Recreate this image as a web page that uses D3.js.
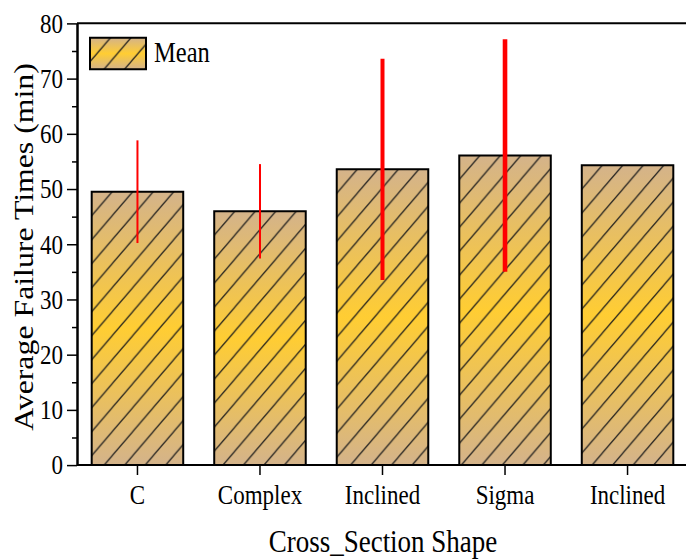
<!DOCTYPE html>
<html>
<head>
<meta charset="utf-8">
<script src="https://cdn.jsdelivr.net/npm/d3@7"></script>
<style>
  html, body { margin: 0; padding: 0; background: #fff; }
  svg { display: block; }
</style>
</head>
<body>
<script>
// Bar categories (the last shape label repeats, so bars are keyed by index)
const categories = ["C", "Complex", "Inclined", "Sigma", "Inclined"];
// Mean failure time per cross-section shape (min)
const means = [49.5, 45.95, 53.55, 56.05, 54.3];
// Error half-widths (min)
const errors = [9.3, 8.55, 20.05, 21.05, 0];
// Error bar line thickness per bar
const errWidths = [2, 2, 4, 4.6, 2];
// Y axis ticks
const yTicks = [0, 10, 20, 30, 40, 50, 60, 70, 80];
const yMinorTicks = [5, 15, 25, 35, 45, 55, 65, 75];
const legendLabel = "Mean";
const xTitle = "Cross_Section Shape";
const yTitle = "Average Failure Times (min)";

const W = 686, H = 560;
const SY = 1.2;            // vertical stretch of the drawing
const VH = H / SY;         // drawing height in user units
const FONT = "'Liberation Serif', 'Times New Roman', serif";

const svg = d3.select("body").append("svg")
  .attr("width", W).attr("height", H)
  .attr("viewBox", `0 0 ${W} ${VH}`)
  .attr("preserveAspectRatio", "none");

const x = d3.scaleBand()
  .domain(d3.range(categories.length))
  .range([76.2, 688.8])
  .paddingInner(0.253)
  .paddingOuter(0.1265);

const y = d3.scaleLinear().domain([0, 80]).range([465 / SY, 23.3 / SY]);

const defs = svg.append("defs");

// tan - yellow - tan vertical fill
const grad = defs.append("linearGradient")
  .attr("id", "barFill")
  .attr("x1", 0).attr("y1", 0).attr("x2", 0).attr("y2", 1);
grad.append("stop").attr("offset", "0%").attr("stop-color", "#d4b38a");
grad.append("stop").attr("offset", "50%").attr("stop-color", "#ffcd33");
grad.append("stop").attr("offset", "100%").attr("stop-color", "#d4b38a");

const HW = 20.5, HH = 20;  // hatch tile
function makeHatch(id, ox, oy) {
  const p = defs.append("pattern")
    .attr("id", id)
    .attr("patternUnits", "userSpaceOnUse")
    .attr("x", ox).attr("y", oy)
    .attr("width", HW).attr("height", HH);
  p.append("path")
    .attr("d", `M0,${HH} L${HW},0 M-2,2 L2,-2 M${HW - 2},${HH + 2} L${HW + 2},${HH - 2}`)
    .attr("stroke", "#1a1a1a")
    .attr("stroke-width", 1.1)
    .attr("fill", "none");
}

// Bars
const bars = svg.append("g").selectAll("g.bar")
  .data(means.map((m, i) => ({ i, m, e: errors[i] })))
  .join("g").attr("class", "bar");

bars.each(function (d) {
  const g = d3.select(this);
  const bx = x(d.i), by = y(d.m), bw = x.bandwidth(), bh = y(0) - y(d.m);
  makeHatch(`hatch-${d.i}`, bx, by);
  g.append("rect").attr("x", bx).attr("y", by).attr("width", bw).attr("height", bh)
    .attr("fill", "url(#barFill)");
  g.append("rect").attr("x", bx).attr("y", by).attr("width", bw).attr("height", bh)
    .attr("fill", `url(#hatch-${d.i})`);
  g.append("rect").attr("x", bx).attr("y", by).attr("width", bw).attr("height", bh)
    .attr("fill", "none").attr("stroke", "#000").attr("stroke-width", 2)
    .attr("vector-effect", "non-scaling-stroke");
});

// Error bars
svg.append("g").selectAll("line")
  .data(means.map((m, i) => ({ i, m, e: errors[i] })).filter(d => d.e > 0))
  .join("line")
  .attr("x1", d => x(d.i) + x.bandwidth() / 2)
  .attr("x2", d => x(d.i) + x.bandwidth() / 2)
  .attr("y1", d => y(d.m + d.e))
  .attr("y2", d => y(d.m - d.e))
  .attr("stroke", "#ff0000")
  .attr("stroke-width", d => errWidths[d.i]);

// Axes
function styleAxis(g, w) {
  g.selectAll("path.domain").attr("stroke", "#000").attr("stroke-width", 2)
    .attr("vector-effect", "non-scaling-stroke");
  g.selectAll(".tick line").attr("stroke", "#000").attr("stroke-width", w)
    .attr("vector-effect", "non-scaling-stroke");
  g.selectAll("text").attr("font-family", FONT).attr("font-size", 23).attr("fill", "#000");
}

const yAxisX = 77;
const yMinor = svg.append("g").attr("transform", `translate(${yAxisX},0)`)
  .call(d3.axisLeft(y).tickValues(yMinorTicks).tickSize(5).tickSizeOuter(0).tickFormat(""));
styleAxis(yMinor, 1.5);

const yAxis = svg.append("g").attr("transform", `translate(${yAxisX},0)`)
  .call(d3.axisLeft(y).tickValues(yTicks).tickSize(10).tickPadding(4).tickSizeOuter(0));
styleAxis(yAxis, 1.5);

const xAxis = svg.append("g").attr("transform", `translate(0,${y(0)})`)
  .call(d3.axisBottom(x).tickFormat(i => categories[i]).tickSize(10 / SY).tickSizeOuter(0));
styleAxis(xAxis, 1.5);
xAxis.selectAll("path.domain").attr("d", `M${yAxisX},0H${W + 10}`);
xAxis.selectAll("text").attr("y", 39 / SY).attr("dy", 0);

// Top frame line
svg.append("line")
  .attr("x1", yAxisX).attr("x2", W + 10)
  .attr("y1", y(80)).attr("y2", y(80))
  .attr("stroke", "#000").attr("stroke-width", 2)
  .attr("vector-effect", "non-scaling-stroke");

// Legend
const lg = { x: 90, y: 37.7 / SY, w: 56, h: 31.6 / SY };
makeHatch("hatch-legend", lg.x, lg.y);
svg.append("rect").attr("x", lg.x).attr("y", lg.y).attr("width", lg.w).attr("height", lg.h)
  .attr("fill", "url(#barFill)");
svg.append("rect").attr("x", lg.x).attr("y", lg.y).attr("width", lg.w).attr("height", lg.h)
  .attr("fill", "url(#hatch-legend)");
svg.append("rect").attr("x", lg.x).attr("y", lg.y).attr("width", lg.w).attr("height", lg.h)
  .attr("fill", "none").attr("stroke", "#000").attr("stroke-width", 2)
  .attr("vector-effect", "non-scaling-stroke");
svg.append("text")
  .attr("x", 154).attr("y", 62 / SY)
  .attr("font-family", FONT).attr("font-size", 24.5)
  .text(legendLabel);

// Axis titles
svg.append("text")
  .attr("x", 383).attr("y", 552 / SY)
  .attr("text-anchor", "middle")
  .attr("font-family", FONT).attr("font-size", 27)
  .text(xTitle);

svg.append("text")
  .attr("transform", `translate(32.5,${247 / SY}) rotate(-90)`)
  .attr("text-anchor", "middle")
  .attr("font-family", FONT).attr("font-size", 26.5)
  .text(yTitle);
</script>
</body>
</html>
